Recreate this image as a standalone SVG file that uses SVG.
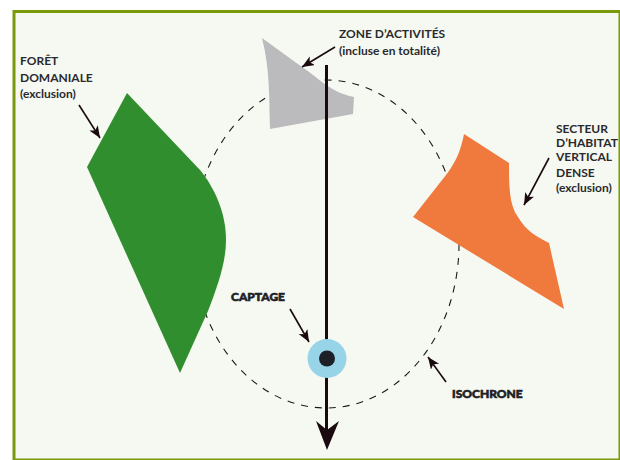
<svg xmlns="http://www.w3.org/2000/svg" width="620" height="460" viewBox="0 0 620 460">
<defs>
<marker id="ah" markerUnits="userSpaceOnUse" markerWidth="14" markerHeight="12" refX="12" refY="5" orient="auto"><path d="M0,0 L12,5 L0,10 L3,5 Z" fill="#1a0a10"/></marker>
</defs>
<style>
.t{font-family:"Lato","Liberation Sans",sans-serif;font-size:12px;font-weight:700;fill:#2a2a2e}
.h{font-family:"Lato","Liberation Sans",sans-serif;font-size:12px;font-weight:900;fill:#1d2026;stroke:#1d2026;stroke-width:.6}
.l{stroke:#1a0a10;stroke-width:1.6;fill:none;marker-end:url(#ah)}
</style>
<rect width="620" height="460" fill="#fff"/>
<path d="M620,11.5 H14 V460 H620 Z" fill="#f6f9f1" stroke="#7a9a0c" stroke-width="3"/>
<g id="connectors">
<ellipse cx="326" cy="244" rx="133" ry="164" fill="none" stroke="#1a1a1a" stroke-width="1.1" stroke-dasharray="7 7"/>
</g>
<g id="foret"><path d="M127,93 L200,170 C214,187 226,212 226,240 C226,262 218,285 208,311 L180,373 L87,167 Z" fill="#318e2f"/>
<text class="t" x="20" y="65">FORÊT</text><text class="t" x="20" y="81.500">DOMANIALE</text><text class="t" x="20" y="98">(exclusion)</text></g>
<g id="zone"><path d="M262,38 L302,67 C320,79 330,92 354,97 L353,114 L270,129 C269,95 270,70 262,38 Z" fill="#bbbbbe"/>
<text class="t" x="339" y="38">ZONE D’ACTIVITÉS</text><text class="t" x="339" y="55">(incluse en totalité)</text></g>
<g id="secteur"><path d="M464,134 L509,163 C509,185 509,205 518,217 C526,231 536,236 549,243 L564,309 L413,217 L446,175 C456,162 461,150 464,134 Z" fill="#f0793d"/>
<text class="t" x="556" y="133">SECTEUR</text><text class="t" x="556" y="146.500">D’HABITAT</text><text class="t" x="556" y="161">VERTICAL</text><text class="t" x="556" y="176.500">DENSE</text><text class="t" x="556" y="192">(exclusion)</text></g>
<g id="axe"><line x1="326.500" y1="65" x2="326.500" y2="432" stroke="#1a0a10" stroke-width="3"/><path d="M316,421 L327,430 L339,421 L327,450 Z" fill="#1a0a10"/></g>
<g id="captage"><circle cx="327" cy="358.500" r="19.500" fill="#98d4e8"/><circle cx="327" cy="358.500" r="8" fill="#1d2026"/>
<text class="h" x="231" y="301">CAPTAGE</text></g>
<g id="isochrone"><text class="h" x="452" y="398">ISOCHRONE</text></g>
<g id="leaders">
<line class="l" x1="79" y1="105" x2="100" y2="138"/>
<line class="l" x1="335" y1="47" x2="302" y2="67"/>
<line class="l" x1="549" y1="158" x2="524" y2="205"/>
<line class="l" x1="290" y1="309" x2="309" y2="342"/>
<line class="l" x1="446" y1="382" x2="428" y2="357"/>
</g>
</svg>
